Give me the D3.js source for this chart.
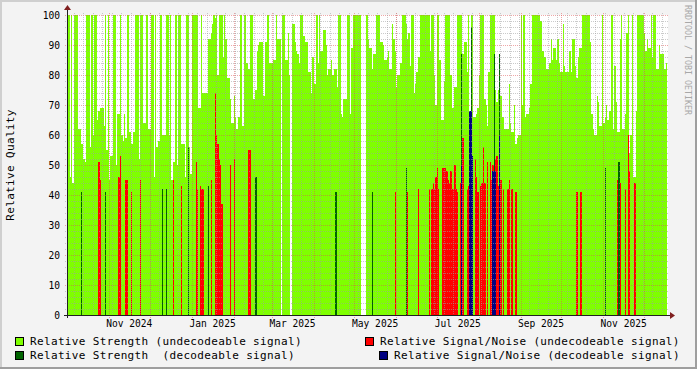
<!DOCTYPE html>
<meta charset="utf-8">
<style>
body {
  margin: 0;
  background: #f3f3f3;
}
svg text {
  font-family: "DejaVu Sans Mono", monospace;
}
</style>
<body>
<script src="https://d3js.org/d3.v7.min.js"></script>
<script>
// daily data, day 0 = 1 Oct 2024
var startDate = new Date(2024, 9, 1);
var endDate = new Date(2025, 11, 18);

// Relative Strength (undecodeable signal), one value per day, null = no data
var strengthUndec = [
  51,100,46,100,44,100,100,100,62,62, 57,57,52,51,100,100,100,56,100,60,
  100,100,65,68,69,69,69,63,100,55, 100,45,53,53,100,100,50,67,67,100,
  60,58,67,59,100,100,61,57,57,61, 100,100,100,52,100,100,64,64,100,100,
  62,62,100,100,46,100,56,58,58,100, 60,60,60,100,100,60,100,45,51,51,
  100,50,100,100,57,57,57,46,100,100, 56,47,100,100,100,100,100,69,69,100,
  74,74,74,74,92,92,94,97,100,99, 100,80,100,100,100,86,100,92,79,79,
  72,64,64,73,66,62,66,66,100,63, 63,100,84,84,82,100,100,72,72,75,
  88,90,91,91,91,73,91,91,100,84, 84,84,85,85,100,92,92,92,null,100,
  100,85,85,94,80,null,97,97,91,88, 87,84,100,100,93,93,91,91,81,81,
  74,86,77,77,100,84,100,88,88,95, 95,90,80,82,82,85,80,82,82,76,
  100,100,67,66,72,72,72,100,100,67, 89,100,100,100,100,100,100,null,null,null,
  null,100,92,89,89,82,87,87,100,100, 100,91,91,90,85,85,86,88,82,82,
  97,92,88,76,80,80,84,100,100,100, 97,92,94,83,100,100,74,77,81,86,
  86,100,100,100,100,100,100,100,88,100, 100,80,70,100,100,85,65,65,78,100,
  100,100,100,80,69,69,76,76,100,100, 100,100,87,91,91,81,100,62,100,100,
  66,66,67,69,80,100,100,100,72,70, 63,81,100,100,100,100,75,71,75,73,
  73,66,66,62,62,62,77,64,61,61, 70,57,59,60,60,100,70,100,66,67,
  67,69,77,100,100,100,100,100,100,98, 98,88,86,86,82,82,84,92,85,89,
  89,85,92,84,81,81,97,83,81,81, 81,88,81,92,92,83,79,86,89,89,
  100,100,100,100,100,100,91,67,62,60, 60,73,71,63,63,100,64,66,70,65,
  68,68,100,62,83,71,61,61,92,100, 62,62,67,94,100,54,60,100,46,46,
  68,100,100,100,100,100,94,88,92,89, 89,100,86,100,100,82,82,90,87,87,
  87,82,84
];

// Relative Signal/Noise (undecodeable signal): day index / value
var snrUndecDays = [23,24,38,39,43,44,47,54,78,84,95,96,98,99,100,106,109,110,111,112,113,114,120,123,134,135,
  242,251,259,267,269,270,271,272,273,274,277,278,279,280,281,282,283,284,285,286,287,288,290,292,295,296,
  301,302,303,305,306,307,308,310,312,313,314,316,317,318,320,322,325,326,328,331,376,379,406,408,412,414,415,419];
var snrUndecValues = [51,45,46,53,45,45,41,45,45,43,51,42,43,42,42,45,74,60,57,52,50,37,50,52,55,55,
  41,41,42,42,42,44,42,46,49,42,49,49,49,48,45,44,48,42,42,50,42,41,44,59,42,43,
  52,46,41,43,44,56,44,51,51,45,50,52,53,43,45,42,42,45,42,41,41,41,45,44,42,60,48,44];

// Relative Strength (decodeable signal)
var strengthDecDays = [10,28,70,73,89,104,139,198,225,250,291,298,315,319,397,407];
var strengthDecValues = [41,41,42,42,56,43,46,41,41,49,87,96,87,87,49,51];

// Relative Signal/Noise (decodeable signal)
var snrDecDays = [291,297,298,299,314,315,316,319];
var snrDecValues = [50,68,68,53,48,48,48,60];

var yTicks = [0,10,20,30,40,50,60,70,80,90,100];
var labelMonthNums = [10, 0, 2, 4, 6, 8]; // Nov, Jan, Mar, May, Jul, Sep

var width = 697, height = 369;
var plotL = 67, plotR = 667, plotT = 15, plotB = 315;

var svg = d3.select("body").append("svg")
    .attr("width", width).attr("height", height);

// frame
svg.append("rect").attr("width", width).attr("height", height).attr("fill", "#f3f3f3");
svg.append("rect").attr("x", 0).attr("y", 0).attr("width", width).attr("height", 2).attr("fill", "#cfcfcf");
svg.append("rect").attr("x", 0).attr("y", 0).attr("width", 2).attr("height", height).attr("fill", "#cfcfcf");
svg.append("rect").attr("x", 0).attr("y", height - 2).attr("width", width).attr("height", 2).attr("fill", "#9e9e9e");
svg.append("rect").attr("x", width - 2).attr("y", 0).attr("width", 2).attr("height", height).attr("fill", "#9e9e9e");

var x = d3.scaleTime().domain([startDate, endDate]).range([plotL, plotR]);
var y = d3.scaleLinear().domain([0, 100]).range([plotB, plotT]);

svg.append("rect")
    .attr("x", plotL).attr("y", plotT)
    .attr("width", plotR - plotL + 1).attr("height", plotB - plotT)
    .attr("fill", "#ffffff");

function dayX(d) { return Math.round(x(d3.timeDay.offset(startDate, d))); }
function dayW(d) { return Math.max(1, dayX(d + 1) - dayX(d)); }

function bars(days, values, color) {
  var data = days.map(function(d, i) { return {d: d, v: values[i]}; })
      .filter(function(p) { return p.v != null; });
  svg.append("g").selectAll("rect")
    .data(data)
    .enter().append("rect")
    .attr("x", function(p) { return dayX(p.d); })
    .attr("width", function(p) { return dayW(p.d); })
    .attr("y", function(p) { return Math.round(y(p.v)); })
    .attr("height", function(p) { return plotB - Math.round(y(p.v)); })
    .attr("fill", color)
    .attr("shape-rendering", "crispEdges");
}

bars(d3.range(strengthUndec.length), strengthUndec, "#7fff00");
bars(snrUndecDays, snrUndecValues, "#ff0000");
bars(strengthDecDays, strengthDecValues, "#006400");
bars(snrDecDays, snrDecValues, "#000080");

// grid, drawn over the data
var grid = svg.append("g").attr("shape-rendering", "crispEdges");
d3.range(2, 101, 2).forEach(function(v) {
  var major = v % 10 === 0;
  grid.append("line")
    .attr("x1", plotL - 2).attr("x2", plotR + 2)
    .attr("y1", y(v) + 0.5).attr("y2", y(v) + 0.5)
    .attr("stroke", major ? "rgba(224,80,80,0.5)" : "rgba(160,160,160,0.55)")
    .attr("stroke-dasharray", "1,1");
});
d3.timeSunday.range(startDate, endDate).forEach(function(t) {
  grid.append("line")
    .attr("x1", Math.round(x(t)) + 0.5).attr("x2", Math.round(x(t)) + 0.5)
    .attr("y1", plotT - 2).attr("y2", plotB + 2)
    .attr("stroke", "rgba(160,160,160,0.55)")
    .attr("stroke-dasharray", "1,1");
});
var months = d3.timeMonth.range(d3.timeDay.offset(startDate, 1), endDate);
months.forEach(function(t) {
  grid.append("line")
    .attr("x1", Math.round(x(t)) + 0.5).attr("x2", Math.round(x(t)) + 0.5)
    .attr("y1", plotT - 2).attr("y2", plotB + 3)
    .attr("stroke", "rgba(224,80,80,0.5)")
    .attr("stroke-dasharray", "1,1");
});

// axes
svg.append("line").attr("x1", plotL - 3).attr("x2", plotR + 3)
  .attr("y1", plotB + 0.5).attr("y2", plotB + 0.5).attr("stroke", "#202020");
svg.append("line").attr("x1", plotL + 0.5).attr("x2", plotL + 0.5)
  .attr("y1", plotB + 3).attr("y2", plotT - 5).attr("stroke", "#202020");
svg.append("path").attr("d", "M" + (plotR + 3) + "," + (plotB - 3) + "L" + (plotR + 8) + "," + (plotB + 0.5) + "L" + (plotR + 3) + "," + (plotB + 4) + "Z")
  .attr("fill", "#802020");
svg.append("path").attr("d", "M" + (plotL - 3) + "," + (plotT - 5) + "L" + (plotL + 0.5) + "," + (plotT - 10) + "L" + (plotL + 4) + "," + (plotT - 5) + "Z")
  .attr("fill", "#802020");

// y labels
svg.append("g").selectAll("text")
  .data(yTicks)
  .enter().append("text")
  .attr("x", 60).attr("y", function(v) { return y(v) + 3.5; })
  .attr("text-anchor", "end")
  .style("font-size", "9.6px")
  .text(function(v) { return v; });

// x labels, centred in their month
var fmt = d3.timeFormat("%b %Y");
var labelMonths = months.filter(function(t) { return labelMonthNums.indexOf(t.getMonth()) >= 0; });
svg.append("g").selectAll("text")
  .data(labelMonths)
  .enter().append("text")
  .attr("x", function(t) { return (x(t) + x(d3.timeMonth.offset(t, 1))) / 2; })
  .attr("y", 327)
  .attr("text-anchor", "middle")
  .style("font-size", "9.6px")
  .text(function(t) { return fmt(t); });

svg.append("text")
  .attr("transform", "translate(14,165) rotate(-90)")
  .attr("text-anchor", "middle")
  .style("font-size", "11px")
  .style("letter-spacing", "0.35px")
  .text("Relative Quality");

svg.append("text")
  .attr("transform", "translate(685,5) rotate(90)")
  .attr("fill", "#a8a8a8")
  .style("font-size", "8.3px")
  .text("RRDTOOL / TOBI OETIKER");

// legend
var legend = [
  {label: "Relative Strength (undecodeable signal)", color: "#7fff00", bx: 15, tx: 30, row: 0},
  {label: "Relative Signal/Noise (undecodeable signal)", color: "#ff0000", bx: 365, tx: 380, row: 0},
  {label: "Relative Strength  (decodeable signal)", color: "#006400", bx: 15, tx: 30, row: 1},
  {label: "Relative Signal/Noise (decodeable signal)", color: "#000080", bx: 379, tx: 394, row: 1}
];
var lg = svg.append("g").selectAll("g").data(legend).enter().append("g");
lg.append("rect")
  .attr("x", function(d) { return d.bx + 0.5; })
  .attr("y", function(d) { return 337.5 + d.row * 14; })
  .attr("width", 8).attr("height", 8)
  .attr("fill", function(d) { return d.color; })
  .attr("stroke", "#000");
lg.append("text")
  .attr("x", function(d) { return d.tx; })
  .attr("y", function(d) { return 344.5 + d.row * 14; })
  .style("font-size", "11px")
  .style("letter-spacing", "0.35px")
  .style("white-space", "pre")
  .text(function(d) { return d.label; });
</script>
</body>
